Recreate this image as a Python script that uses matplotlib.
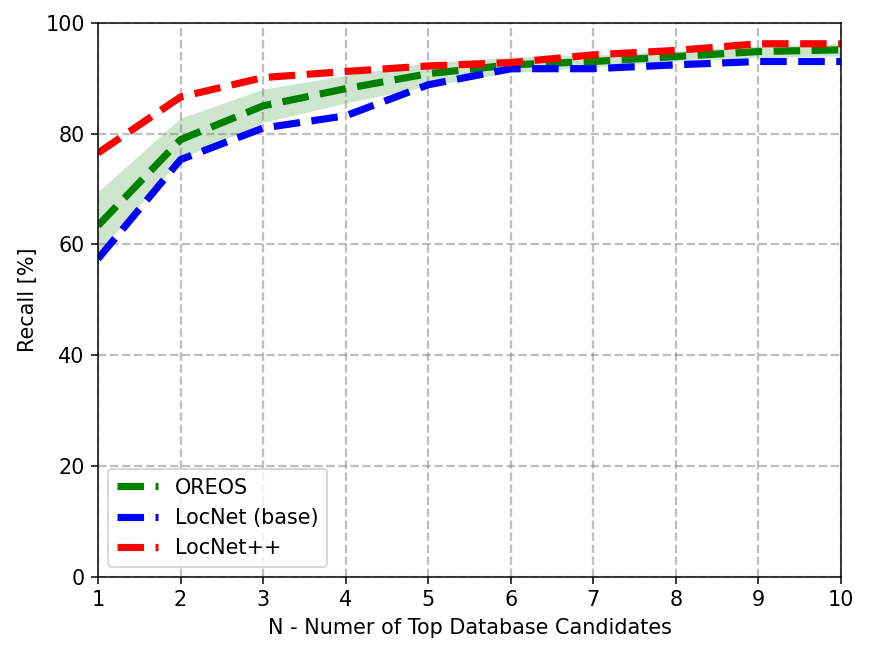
import numpy as np
import matplotlib
matplotlib.use("Agg")
import matplotlib.pyplot as plt

# Recall values
n_candidates = [1, 2, 3, 4, 5, 6, 7, 8, 9, 10]
oreos = [63.4, 78.9, 85.0, 88.1, 90.8, 92.4, 93.0, 93.9, 94.8, 95.1]
oreos_upper = [69.5, 82.8, 88.0, 90.5, 92.8, 93.8, 94.2, 94.9, 95.8, 96.2]
oreos_lower = [58.5, 75.5, 82.0, 85.5, 88.6, 91.0, 92.0, 93.0, 93.8, 94.0]
locnet_base = [57.4, 75.3, 81.0, 83.2, 88.8, 91.7, 91.7, 92.4, 93.0, 93.0]
locnet_pp = [76.5, 86.6, 90.1, 91.2, 92.2, 92.8, 94.2, 95.0, 96.2, 96.2]

plt.rcParams['font.size'] = 11

fig = plt.figure(figsize=(871 / 136, 656 / 136), dpi=136)
ax = fig.add_axes([0.1125, 0.1204, 0.853, 0.845])

ax.fill_between(n_candidates, oreos_lower, oreos_upper, color='green', alpha=0.2, linewidth=0)
ax.plot(n_candidates, oreos, '--', color='green', linewidth=3.8, label='OREOS')
ax.plot(n_candidates, locnet_base, '--', color='blue', linewidth=3.8, label='LocNet (base)')
ax.plot(n_candidates, locnet_pp, '--', color='red', linewidth=3.8, label='LocNet++')

ax.set_xlim(1, 10)
ax.set_ylim(0, 100)
ax.set_xticks(n_candidates)
ax.set_xlabel("N - Numer of Top Database Candidates")
ax.set_ylabel("Recall [%]")
ax.grid(True, linestyle='--', color='gray', alpha=0.5, linewidth=1.2)
ax.legend(loc='lower left')

fig.savefig("out.png", dpi=136)
